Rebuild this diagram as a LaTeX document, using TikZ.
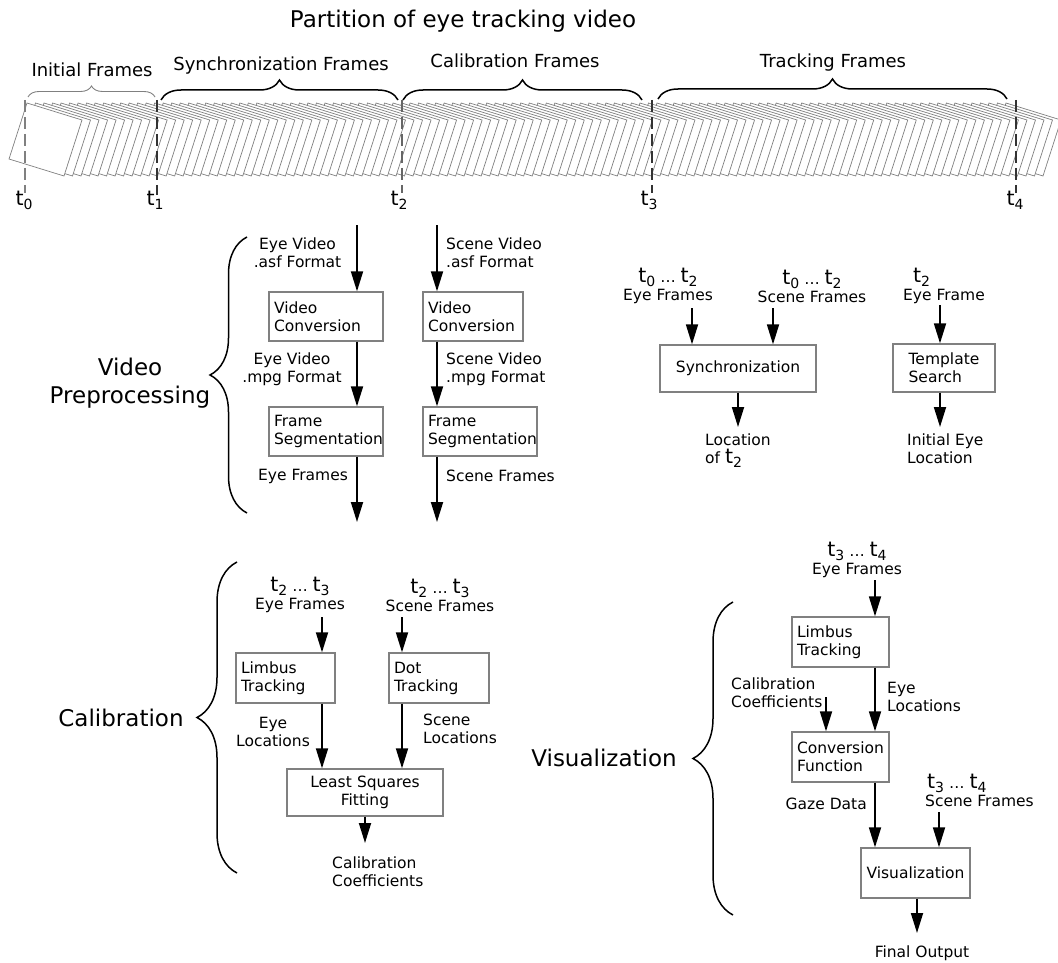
\documentclass[tikz,border=0pt]{standalone}
\usepackage{fontspec}
\setmainfont{DejaVu Sans}
\usetikzlibrary{arrows.meta,positioning,decorations.pathreplacing}

\definecolor{boxgray}{gray}{0.5}
\definecolor{framegray}{gray}{0.5}

\newcommand{\labfont}{\fontsize{15.5}{18}\selectfont}
\newcommand{\secfont}{\fontsize{23}{28}\selectfont}
\newcommand{\partfont}{\fontsize{18}{20}\selectfont}
\newcommand{\titlefont}{\fontsize{23}{26}\selectfont}
\newcommand{\tsym}[1]{{\fontsize{20.5}{20}\selectfont t}\raisebox{-4pt}{\fontsize{14}{14}\selectfont #1}}
\newcommand{\trange}[2]{\tsym{#1} … \tsym{#2}}

\begin{document}
\begin{tikzpicture}[
    x=1pt, y=-1pt,
    > = {Triangle[length=20pt,width=12pt]}, % arrow head style
    font=\labfont,
    box/.style={draw=boxgray, line width=1.3pt, fill=white, inner xsep=5pt,
      inner ysep=0pt, minimum height=49pt, align=left},
    cbox/.style={box, align=center},
    lbl/.style={align=center, inner sep=0pt},
    lbll/.style={align=left, inner sep=0pt},
    flow/.style={->, line width=1.8pt},
    tmark/.style={dash pattern=on 12pt off 5pt, line width=1.2pt},
    sbrace/.style={decorate, decoration={brace, amplitude=#1}, line width=1.5pt}
  ]
  \useasboundingbox (0,0) rectangle (1058,963);

  % title
  \node[font=\titlefont, anchor=base] (title) at (463,28) {Partition of eye tracking video};

  % stack of video frames
  \foreach \i in {115,...,0}
    \draw[framegray, line width=0.7pt, fill=white, shift={(8.513*\i,0)}]
      (27,103) -- (82,120) -- (64,176) -- (9,159) -- cycle;

  % time marks
  \draw[tmark, gray] (25,100) -- (25,193);
  \draw[tmark, black!80] (157,100) -- (157,195);
  \draw[tmark, black!60] (402,100) -- (402,193);
  \draw[tmark, black!80] (652,100) -- (652,193);
  \draw[tmark, black!80] (1016,100) -- (1016,193);
  \node[anchor=base] (t0) at (24,205) {\tsym{0}};
  \node[anchor=base] (t1) at (155,205) {\tsym{1}};
  \node[anchor=base] (t2) at (399,205) {\tsym{2}};
  \node[anchor=base] (t3) at (649,205) {\tsym{3}};
  \node[anchor=base] (t4) at (1015,205) {\tsym{4}};

  % partition braces
  \draw[sbrace=11pt, line width=0.9pt, gray] (28,97) -- (155,97);
  \draw[sbrace=20pt] (161,100) -- (398,100);
  \draw[sbrace=20pt] (403,100) -- (642,100);
  \draw[sbrace=20pt] (658,99) -- (1007,99);
  \node[font=\partfont, anchor=base] (pInit) at (92,77) {Initial Frames};
  \node[font=\partfont, anchor=base] (pSync) at (281,71) {Synchronization Frames};
  \node[font=\partfont, anchor=base] (pCal) at (515,68) {Calibration Frames};
  \node[font=\partfont, anchor=base] (pTrack) at (833,68) {Tracking Frames};

  % video preprocessing
  \node[font=\secfont, align=center] (ppTitle) at (130,383) {Video\\Preprocessing};
  \draw[sbrace=37pt] (247,513) -- (247,237);

  \node[box, text width=104pt] (vcL) at (326,316.5) {Video\\Conversion};
  \node[box, text width=104pt] (fsL) at (326,431.5) {Frame\\Segmentation};
  \node[box, text width=90pt] (vcR) at (473,316.5) {Video\\Conversion};
  \node[box, text width=104pt] (fsR) at (480,431.5) {Frame\\Segmentation};

  \coordinate (inL) at (357,225);
  \coordinate (outL) at (357,522);
  \coordinate (inR) at (437,225);
  \coordinate (outR) at (437,522);
  \draw[flow] (inL) -- (inL |- vcL.north);
  \draw[flow] (vcL.south -| inL) -- (fsL.north -| inL);
  \draw[flow] (fsL.south -| inL) -- (outL);
  \draw[flow] (inR) -- (inR |- vcR.north);
  \draw[flow] (vcR.south -| inR) -- (fsR.north -| inR);
  \draw[flow] (fsR.south -| inR) -- (outR);

  \node[lbl] (eyeAsf) at (297.5,253) {Eye Video\\.asf Format};
  \node[lbl] (eyeMpg) at (292,369) {Eye Video\\.mpg Format};
  \node[lbl] (eyeFr) at (303,476) {Eye Frames};
  \node[lbll, anchor=west] (scAsf) at (446,253) {Scene Video\\.asf Format};
  \node[lbll, anchor=west] (scMpg) at (446,369) {Scene Video\\.mpg Format};
  \node[lbll, anchor=west] (scFr) at (446,476) {Scene Frames};

  % synchronization
  \node[lbl] (syEye) at (668,286) {\trange{0}{2}\\Eye Frames};
  \node[lbl] (syScene) at (812,286) {\trange{0}{2}\\Scene Frames};
  \node[cbox, text width=146pt, minimum height=47pt] (sync) at (738,368.5) {Synchronization};
  \coordinate (syA) at (692,308);
  \coordinate (syB) at (773,308);
  \coordinate (syOut) at (738,427);
  \draw[flow] (syA) -- (syA |- sync.north);
  \draw[flow] (syB) -- (syB |- sync.north);
  \draw[flow] (sync.south) -- (syOut);
  \node[lbll, anchor=north west] (syLoc) at (705,434) {Location\\of \tsym{2}};

  % template search
  \node[lbll] (tsEye) at (944,286) {\hspace*{10pt}\tsym{2}\\Eye Frame};
  \node[box, minimum width=102pt, minimum height=48pt] (tmpl) at (944,368) {Template\\Search};
  \coordinate (tsIn) at (940,305);
  \coordinate (tsOut) at (940,427);
  \draw[flow] (tsIn) -- (tsIn |- tmpl.north);
  \draw[flow] (tmpl.south -| tsIn) -- (tsOut);
  \node[lbll, anchor=north west] (tsLoc) at (907,434) {Initial Eye\\Location};

  % calibration
  \node[font=\secfont] (calTitle) at (121,718) {Calibration};
  \draw[sbrace=40pt] (237,873) -- (237,562);

  \node[lbl] (caEye) at (300,595) {\trange{2}{3}\\Eye Frames};
  \node[lbl] (caScene) at (440,595) {\trange{2}{3}\\Scene Frames};
  \node[box, text width=89pt, minimum height=50pt] (limA) at (285.5,678) {Limbus\\Tracking};
  \node[box, text width=90pt, minimum height=50pt] (dot) at (439,678) {Dot\\Tracking};
  \node[cbox, text width=146pt, minimum height=47pt] (lsq) at (365,792.5) {Least Squares\\Fitting};
  \coordinate (caA) at (322,617);
  \coordinate (caB) at (402,617);
  \coordinate (caOut) at (365,843);
  \draw[flow] (caA) -- (caA |- limA.north);
  \draw[flow] (caB) -- (caB |- dot.north);
  \draw[flow] (limA.south -| caA) -- (lsq.north -| caA);
  \draw[flow] (dot.south -| caB) -- (lsq.north -| caB);
  \draw[flow] (lsq.south) -- (caOut);
  \node[lbl] (caEyeLoc) at (273,732) {Eye\\Locations};
  \node[lbll, anchor=west] (caScLoc) at (423,729) {Scene\\Locations};
  \node[lbll, anchor=north west] (caCoef) at (332,857) {Calibration\\Coefficients};

  % visualization
  \node[font=\secfont] (visTitle) at (604,758) {Visualization};
  \draw[sbrace=40pt] (733,915) -- (733,602);

  \node[lbl] (viEye) at (857,560) {\trange{3}{4}\\Eye Frames};
  \node[box, text width=87pt, minimum height=50pt] (limB) at (840.5,642) {Limbus\\Tracking};
  \node[box, text width=87pt, minimum height=50pt] (conv) at (840.5,757) {Conversion\\Function};
  \node[cbox, text width=99pt, minimum height=50pt] (vis) at (915.5,873) {Visualization};
  \node[lbll, anchor=west] (viScene) at (925,790) {\hspace*{2pt}\trange{3}{4}\\Scene Frames};
  \coordinate (viA) at (875,580);
  \coordinate (viC) at (826,697);
  \coordinate (viS) at (939,812);
  \coordinate (viOut) at (917,933);
  \draw[flow] (viA) -- (viA |- limB.north);
  \draw[flow] (limB.south -| viA) -- (conv.north -| viA);
  \draw[flow] (viC) -- (viC |- conv.north);
  \draw[flow] (conv.south -| viA) -- (vis.north -| viA);
  \draw[flow] (viS) -- (viS |- vis.north);
  \draw[flow] (vis.south -| viOut) -- (viOut);
  \node[lbll, anchor=west] (viEyeLoc) at (887,697) {Eye\\Locations};
  \node[lbll, anchor=west] (viCoef) at (731,693) {Calibration\\Coefficients};
  \node[lbl, anchor=east] (viGaze) at (867,804) {Gaze Data};
  \node[lbl] (viFinal) at (922,953) {Final Output};
\end{tikzpicture}
\end{document}
